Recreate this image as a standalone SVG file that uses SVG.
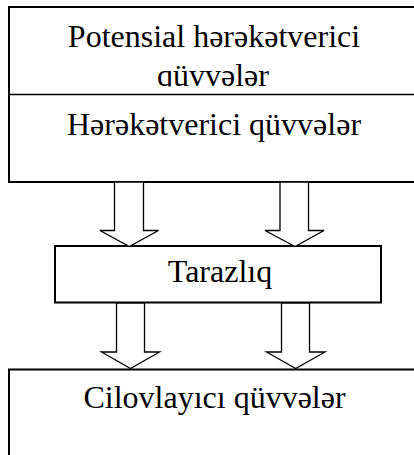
<svg xmlns="http://www.w3.org/2000/svg" width="414" height="455" viewBox="0 0 414 455">
  <style>
    .box { fill: #ffffff; stroke: #000000; stroke-width: 2; }
    .rule { stroke: #000000; stroke-width: 1.4; }
    .label { font-family: "Liberation Serif", "DejaVu Serif", "Times New Roman", serif; font-size: 32px; fill: #000000; text-anchor: middle; }
    .arrow { fill: #ffffff; stroke: #000000; stroke-width: 1.3; stroke-linejoin: miter; }
  </style>
  <defs>
    <!-- the second line of the upper cell is cut just below its baseline -->
    <clipPath id="upperCell">
      <rect x="9" y="7" width="410" height="79.5"/>
    </clipPath>
  </defs>
  <rect width="414" height="455" fill="#ffffff"/>

  <!-- driving forces (two rows in one frame) -->
  <g id="driving-forces">
    <rect class="box" x="9" y="7" width="420" height="175"/>
    <line class="rule" x1="9" y1="94.5" x2="420" y2="94.5"/>
    <g clip-path="url(#upperCell)">
      <text class="label" x="214" y="47">Potensial hərəkətverici</text>
      <text class="label" x="213" y="86">qüvvələr</text>
    </g>
    <text class="label" x="214" y="135">Hərəkətverici qüvvələr</text>
  </g>

  <!-- balance -->
  <g id="balance">
    <rect class="box" x="55" y="246" width="326" height="56.5"/>
    <text class="label" x="220" y="282">Tarazlıq</text>
  </g>

  <!-- restraining forces -->
  <g id="restraining-forces">
    <rect class="box" x="9" y="369.5" width="420" height="100"/>
    <text class="label" x="214.5" y="408">Cilovlayıcı qüvvələr</text>
  </g>

  <!-- block arrows -->
  <g id="connectors">
    <polygon class="arrow" points="114.5,182 143.5,182 143.5,230.5 158.5,230.5 129.3,246.5 100,230.5 114.5,230.5"/>
    <polygon class="arrow" points="280,182 308.5,182 308.5,230.5 324,230.5 295,246.5 265,230.5 280,230.5"/>
    <polygon class="arrow" points="116.5,303 144.5,303 144.5,352 159.5,352 130.5,368.5 101.5,352 116.5,352"/>
    <polygon class="arrow" points="281.5,303 309.5,303 309.5,352 325,352 295.7,368.5 266.5,352 281.5,352"/>
  </g>
</svg>
